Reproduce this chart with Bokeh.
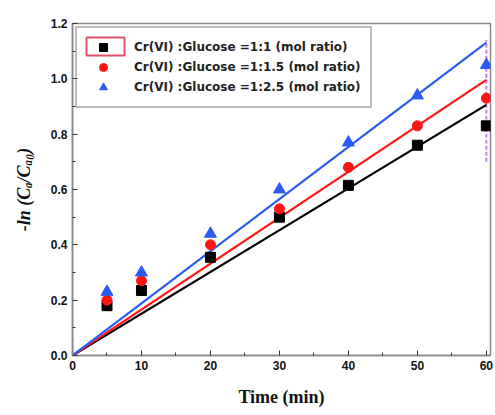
from bokeh.plotting import figure
from bokeh.models import FixedTicker, PrintfTickFormatter, Range1d, Legend, LegendItem, BoxAnnotation
from bokeh.embed import file_html
from bokeh.resources import INLINE

time_min = [5, 10, 20, 30, 40, 50, 60]
ratio_1_1 = [0.18, 0.235, 0.355, 0.50, 0.615, 0.76, 0.83]
ratio_1_15 = [0.20, 0.27, 0.40, 0.53, 0.68, 0.83, 0.93]
ratio_1_25 = [0.23, 0.30, 0.44, 0.60, 0.77, 0.94, 1.05]
fit_slopes = [0.0151, 0.0166, 0.01885]
fit_x = [0, 60]
labels = ["Cr(VI) :Glucose =1:1 (mol ratio)",
          "Cr(VI) :Glucose =1:1.5 (mol ratio)",
          "Cr(VI) :Glucose =1:2.5 (mol ratio)"]
x_ticks = [0, 10, 20, 30, 40, 50, 60]
y_ticks = [0.0, 0.2, 0.4, 0.6, 0.8, 1.0, 1.2]
marker_x = [0, 60]
marker_lo = [-0.08, 0.70]
marker_hi = [0.06, 1.14]

p = figure(width=495, height=415, output_backend="svg", toolbar_location=None,
           x_range=Range1d(0, 60.6), y_range=Range1d(0, 1.2),
           min_border_left=72, min_border_right=5, min_border_top=23, min_border_bottom=60)
p.grid.visible = False
p.outline_line_color = "#888888"
p.outline_line_width = 1.5
p.background_fill_color = "white"
p.border_fill_color = "white"

for ax in (p.xaxis[0], p.yaxis[0]):
    ax.axis_line_color = "#888888"
    ax.axis_line_width = 1.5
    ax.major_tick_in = 5
    ax.major_tick_out = 0
    ax.minor_tick_in = 3
    ax.minor_tick_out = 0
    ax.major_tick_line_color = "#333333"
    ax.minor_tick_line_color = "#333333"
    ax.major_label_text_font = "Liberation Sans"
    ax.major_label_text_font_style = "bold"
    ax.major_label_text_font_size = "12px"
    ax.major_label_text_color = "#111111"
    ax.axis_label_text_font = "Liberation Serif"
    ax.axis_label_text_font_size = "18px"
    ax.axis_label_text_color = "#111111"

p.xaxis.ticker = FixedTicker(ticks=x_ticks, minor_ticks=[v + 5 for v in x_ticks])
p.yaxis.ticker = FixedTicker(ticks=y_ticks, minor_ticks=[round(v + 0.1, 1) for v in y_ticks])
p.yaxis.formatter = PrintfTickFormatter(format="%.1f")
p.xaxis.axis_label = "Time (min)"
p.xaxis.axis_label_text_font_style = "bold"
p.xaxis.axis_label_standoff = 14
p.yaxis.axis_label = "-ln (C\u2090/C\u2090\u2080)"
p.yaxis.axis_label_text_font_style = "bold italic"
p.yaxis.axis_label_standoff = 14

# selection highlight around first legend swatch (as in the original)
p.add_layout(BoxAnnotation(left=14, right=52, top=318, bottom=300,
                           left_units="screen", right_units="screen",
                           top_units="screen", bottom_units="screen",
                           fill_color=None, line_color="#e0506a", line_alpha=1.0,
                           line_width=2, level="underlay"))

# pink marker lines
p.segment(x0=marker_x, y0=marker_lo, x1=marker_x, y1=marker_hi,
          line_color="#d27cf0", line_width=2, line_dash="4 2")

colors = ["black", "#ff1414", "#2a5cf2"]
for s, c in zip(fit_slopes, colors):
    p.line(fit_x, [s * x for x in fit_x], line_color=c, line_width=2.2)

r1 = p.scatter(time_min, ratio_1_1, marker="square", size=10, color=colors[0])
r2 = p.scatter(time_min, ratio_1_15, marker="circle", size=10, color=colors[1])
r3 = p.scatter(time_min, ratio_1_25, marker="triangle", size=12, color=colors[2])

legend = Legend(items=[LegendItem(label=labels[0], renderers=[r1]),
                       LegendItem(label=labels[1], renderers=[r2]),
                       LegendItem(label=labels[2], renderers=[r3])],
                location="top_left")
legend.label_text_font = "DejaVu Sans"
legend.label_text_font_style = "bold"
legend.label_text_font_size = "12px"
legend.label_text_color = "#222222"
legend.border_line_color = "#777777"
legend.border_line_width = 2
legend.background_fill_alpha = 0
legend.margin = 3
legend.padding = 9
legend.spacing = 0
legend.glyph_width = 34
legend.label_height = 20
legend.glyph_height = 20
legend.label_standoff = 14
p.add_layout(legend)

open("out.html", "w").write(file_html(p, INLINE))
